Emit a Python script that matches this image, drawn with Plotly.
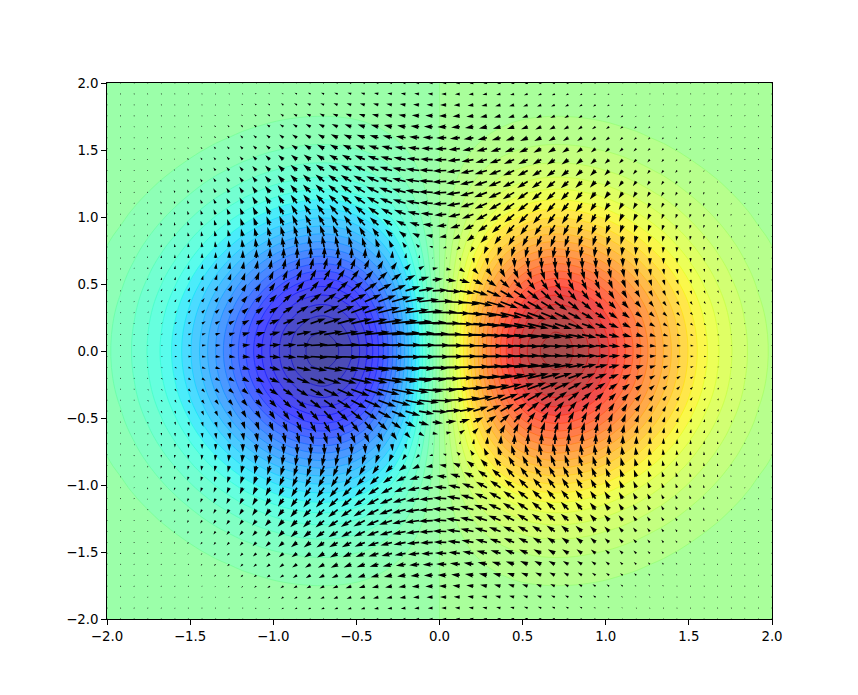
import numpy as np
import plotly.graph_objects as go

# Values at the 50 grid nodes per axis.
# Surface and arrows are modelled as separable: a profile along x times a profile along y.
Z_X_HALF = [0.037, 0.048, 0.063, 0.081, 0.102, 0.126, 0.154, 0.186, 0.220, 0.255,
            0.292, 0.327, 0.360, 0.389, 0.411, 0.425, 0.429, 0.421, 0.401, 0.367,
            0.321, 0.264, 0.196, 0.120, 0.041]
Z_Y_HALF = [0.018, 0.025, 0.034, 0.046, 0.061, 0.079, 0.102, 0.130, 0.163, 0.202,
            0.246, 0.297, 0.353, 0.414, 0.480, 0.548, 0.618, 0.687, 0.755, 0.817,
            0.874, 0.922, 0.959, 0.985, 0.998]
U_Y_HALF = [-0.128, -0.160, -0.197, -0.237, -0.280, -0.323, -0.364, -0.400, -0.428, -0.444,
            -0.444, -0.424, -0.382, -0.316, -0.225, -0.112, 0.022, 0.172, 0.329, 0.488,
            0.638, 0.771, 0.880, 0.956, 0.995]
TICKS = [-2.0, -1.5, -1.0, -0.5, 0.0, 0.5, 1.0, 1.5, 2.0]

W, H = 858, 695
L, R, T, B = 107.25, 772.2, 83.4, 618.55
SX, SY = (R - L) / 4, (B - T) / 4
SHAFT = 1.65

fx = np.array([-v for v in Z_X_HALF] + Z_X_HALF[::-1])
gy = np.array(Z_Y_HALF + Z_Y_HALF[::-1])
uy = np.array(U_Y_HALF + U_Y_HALF[::-1])
x = np.linspace(-2, 2, len(fx))
y = np.linspace(-2, 2, len(gy))
z = np.outer(gy, fx)
u = np.outer(uy, gy)
v = -2 * np.outer(fx, fx)
mag = np.hypot(u, v)
len_scale = (R - L) / (1.8 * 50 * mag.mean())

JET = [[0, "rgb(0,0,127)"], [.11, "rgb(0,0,255)"], [.125, "rgb(0,0,255)"], [.34, "rgb(0,219,255)"],
       [.35, "rgb(0,230,247)"], [.375, "rgb(21,255,226)"], [.64, "rgb(239,255,8)"], [.65, "rgb(247,246,0)"],
       [.66, "rgb(255,236,0)"], [.89, "rgb(255,19,0)"], [.91, "rgb(232,0,0)"], [1, "rgb(127,0,0)"]]
JET_LINES = [[0, "rgb(0,0,186)"]] + [[(s - .05) / .9, c] for s, c in JET[1:-1]] + [[1, "rgb(186,0,0)"]]

ax_pts, ay_pts = [], []
for j, yy in enumerate(y):
    for i, xx in enumerate(x):
        a = mag[j, i]
        ln = a * len_scale
        c, s = (u[j, i] / a, v[j, i] / a) if a > 0 else (1, 0)
        w = SHAFT
        if ln < w:
            t = np.linspace(0, 2 * np.pi, 7)[:-1]
            px, py = 0.75 * w / 2 * np.cos(t), 0.75 * w / 2 * np.sin(t)
        else:
            k = min(1.0, ln / (5 * w))
            hl, hal, hw, sw = 5 * w * k, 4.5 * w * k, 1.5 * w * k, 0.5 * w * k
            px = np.array([0, ln - hal, ln - hl, ln, ln - hl, ln - hal, 0])
            py = np.array([-sw, -sw, -hw, 0, hw, sw, sw])
        rx, ry = px * c - py * s, px * s + py * c
        ax_pts.extend((xx + rx / SX).tolist() + [None])
        ay_pts.extend((yy + ry / SY).tolist() + [None])

fig = go.Figure()
levels = dict(start=-0.42, end=0.42, size=0.02)
fig.add_trace(go.Contour(x=x, y=y, z=z, colorscale=JET, showscale=False, opacity=0.7,
                         contours=dict(coloring="fill", **levels), line=dict(width=0), hoverinfo="skip"))
fig.add_trace(go.Contour(x=x, y=y, z=z, colorscale=JET_LINES, showscale=False, opacity=0.55,
                         contours=dict(coloring="lines", **levels), line=dict(width=1), hoverinfo="skip"))
fig.add_trace(go.Scatter(x=ax_pts, y=ay_pts, mode="lines", fill="toself", fillcolor="black",
                         line=dict(width=0, color="black"), hoverinfo="skip", showlegend=False))

axis = dict(range=[-2, 2], tickvals=TICKS, ticktext=[f"{t:.1f}".replace("-", "\u2212") for t in TICKS],
            ticks="outside", ticklen=4.7, tickwidth=1.1, tickcolor="black", showline=True, linecolor="black",
            linewidth=1.1, mirror=True, showgrid=False, zeroline=False, tickfont=dict(size=13.33, color="black"))
fig.update_layout(width=W, height=H, paper_bgcolor="white", plot_bgcolor="white", showlegend=False,
                  font=dict(family="DejaVu Sans"), xaxis=axis, yaxis=axis,
                  margin=dict(l=L, r=W - R, t=T, b=H - B, pad=0, autoexpand=False))
fig.write_html("out.html", config={"displayModeBar": False}, post_script="document.body.style.margin='0';")
